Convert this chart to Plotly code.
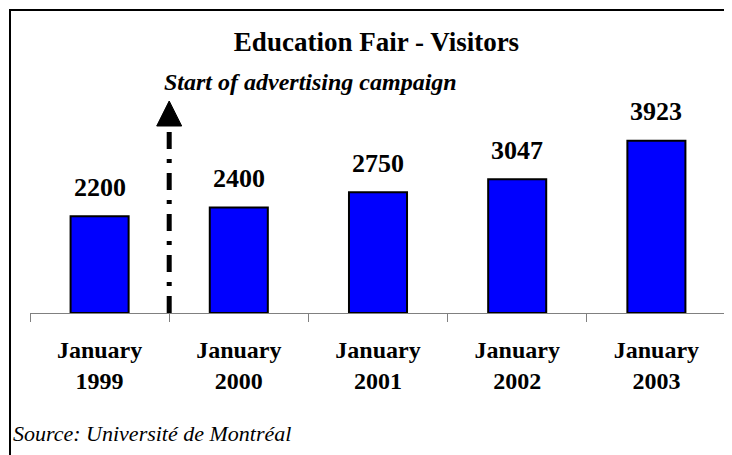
import plotly.graph_objects as go

categories = ["January 1999", "January 2000", "January 2001", "January 2002", "January 2003"]
tick_labels = ["January<br>1999", "January<br>2000", "January<br>2001", "January<br>2002", "January<br>2003"]
visitors = [2200, 2400, 2750, 3047, 3923]
title_text = "Education Fair - Visitors"
campaign_text = "Start of advertising campaign"
source_text = "Source: Université de Montréal"

OFF = 8  # page body margin
W, H = 732 - OFF, 455 - OFF
L, R, T, B = 22, 6, 85, 142
YMAX = 5009
SERIF = "Liberation Serif, Times New Roman, serif"

def px_x(px):
    return (px - OFF - L) / (W - L - R)

def px_y(py):
    return (H - B - (py - OFF)) / (H - T - B)

fig = go.Figure()
fig.add_trace(go.Bar(
    x=categories, y=visitors, width=0.417,
    marker=dict(color="#0000FF", line=dict(color="black", width=2)),
    hoverinfo="skip",
))

for c, v in zip(categories, visitors):
    fig.add_annotation(x=c, y=v, text=str(v), showarrow=False,
                       yanchor="middle", yshift=29,
                       font=dict(family=SERIF, size=26, color="black", weight="bold"))

# campaign marker between first and second category
arrow_base = px_y(126) * YMAX
fig.add_shape(type="line", xref="x", yref="y", x0=0.5, x1=0.5, y0=0, y1=arrow_base,
              line=dict(color="black", width=5, dash="17px,10px,4px,10px"))
fig.add_shape(type="path", xref="x", yref="y", xsizemode="pixel", ysizemode="pixel",
              xanchor=0.5, yanchor=arrow_base,
              path="M -12.5 0 L 12.5 0 L 0 25 Z",
              fillcolor="black", line=dict(color="black", width=1))

fig.add_annotation(xref="paper", yref="paper", x=px_x(162), y=px_y(82),
                   xanchor="left", yanchor="middle", showarrow=False,
                   text=campaign_text,
                   font=dict(family=SERIF, size=24, color="black", weight="bold", style="italic"))
fig.add_annotation(xref="paper", yref="paper", x=px_x(11), y=px_y(433),
                   xanchor="left", yanchor="middle", showarrow=False,
                   text=source_text,
                   font=dict(family=SERIF, size=22, color="black", style="italic"))

# outer frame
fig.add_shape(type="rect", xref="paper", yref="paper",
              x0=px_x(10), x1=px_x(760), y0=px_y(10), y1=px_y(480),
              line=dict(color="black", width=2), fillcolor="rgba(0,0,0,0)", layer="above")

fig.update_layout(
    width=W, height=H,
    margin=dict(l=L, r=R, t=T, b=B),
    paper_bgcolor="white", plot_bgcolor="white",
    showlegend=False,
    title=dict(text=title_text, x=px_x(376.5), xref="paper", xanchor="center",
               y=1 - (42 - OFF) / H, yanchor="middle",
               font=dict(family=SERIF, size=27, color="black", weight="bold")),
    xaxis=dict(
        tickmode="array", tickvals=categories, ticktext=tick_labels,
        tickson="boundaries", ticks="outside", ticklen=8, tickcolor="#808080",
        showline=True, linecolor="#808080", linewidth=1,
        showgrid=False, zeroline=False,
        tickfont=dict(family=SERIF, size=24, color="black", weight="bold"),
        ticklabelstandoff=15,
    ),
    yaxis=dict(range=[0, YMAX], visible=False, showgrid=False, zeroline=False),
)

fig.write_html("out.html")
